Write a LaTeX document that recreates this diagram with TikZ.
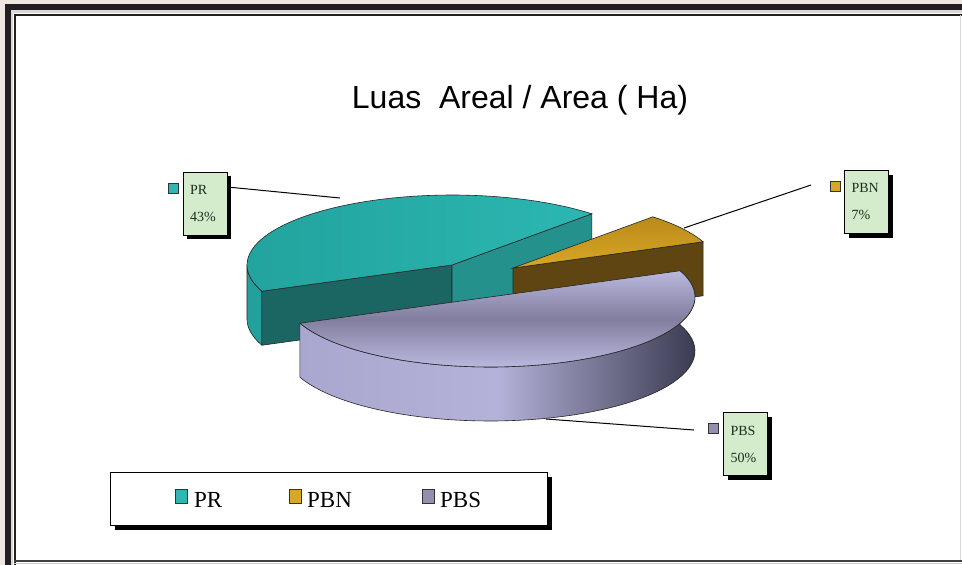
\documentclass[tikz,border=0pt]{standalone}
\usepackage{fontspec}
\setmainfont{Liberation Serif}
\newfontfamily\titlefont{Liberation Sans}
\usetikzlibrary{shadows}
\definecolor{bgpink}{HTML}{EFE6E2}
\definecolor{framedark}{HTML}{231F20}
\definecolor{tealtop}{HTML}{2CB7B2}
\definecolor{tealtopdark}{HTML}{22A39E}
\definecolor{tealfront}{HTML}{1B6663}
\definecolor{tealright}{HTML}{24918C}
\definecolor{tealside}{HTML}{22A09B}
\definecolor{goldtop}{HTML}{D9A726}
\definecolor{goldtopdark}{HTML}{B98A1A}
\definecolor{goldfront}{HTML}{5E4511}
\definecolor{lavtop}{HTML}{BAB8DE}
\definecolor{lavmid}{HTML}{817E9E}
\definecolor{lavside}{HTML}{A9A7CF}
\definecolor{lavsidelight}{HTML}{B4B2D8}
\definecolor{lavsidedark}{HTML}{3B3B52}
\definecolor{calloutfill}{HTML}{D4ECCB}
\definecolor{callouttext}{HTML}{1E2E1E}
\tikzset{
  edge/.style={draw=black!85, line width=0.6pt},
  callout/.style={draw=black, line width=0.8pt, fill=calloutfill, minimum width=44pt, minimum height=63pt,
    inner sep=0pt, text width=30pt, align=left, text=callouttext,
    font=\fontsize{14}{27}\selectfont,
    drop shadow={shadow xshift=4pt, shadow yshift=-4pt, fill=black, opacity=1}},
  keysq/.style={draw=black!80, line width=0.8pt, minimum width=10pt, minimum height=10pt, inner sep=0pt},
  legsq/.style={draw=black!80, line width=0.8pt, minimum width=12pt, minimum height=14pt, inner sep=0pt},
  legtext/.style={font=\fontsize{23}{26}\selectfont, anchor=base west, inner sep=0pt},
  leader/.style={draw=black, line width=1pt},
}
\begin{document}
\begin{tikzpicture}[x=1pt,y=-1pt]
\useasboundingbox (0,0) rectangle (962,565);
% frame
\fill[white] (0,0) rectangle (962,565);
\fill[bgpink] (0,0) rectangle (962,4);
\fill[bgpink] (0,0) rectangle (5,565);
\fill[framedark] (5,4) rectangle (962,10);
\fill[framedark] (5,4) rectangle (11,565);
\fill[black!15] (11,10) rectangle (962,12.5);
\fill[black!15] (11,10) rectangle (13,565);
\draw[framedark, line width=1.6pt] (14.8,565) -- (14.8,14.8) -- (962,14.8);
\draw[black!75, line width=1.4pt] (14,560.8) -- (962,560.8);
\draw[black!20, line width=1pt] (14,563.5) -- (962,563.5);
\draw[black!15, line width=1.2pt] (960.8,15) -- (960.8,560);

% title
\node[font=\titlefont\fontsize{32}{38}\selectfont, anchor=base, inner sep=0pt] (title) at (520,108) {Luas\ \ Areal / Area ( Ha)};

% ---- PR slice (center 452,265), angles 47..202
\fill[tealside] plot[domain=180:202, samples=12, variable=\t] ({452+205*cos(\t)},{265-70*sin(\t)})
   -- plot[domain=202:180, samples=12, variable=\t] ({452+205*cos(\t)},{319-70*sin(\t)}) -- cycle;
\draw[edge] plot[domain=180:202, samples=12, variable=\t] ({452+205*cos(\t)},{265-70*sin(\t)})
   -- plot[domain=202:180, samples=12, variable=\t] ({452+205*cos(\t)},{319-70*sin(\t)}) -- cycle;
\filldraw[edge, fill=tealfront] (452,265) -- ({452+205*cos(202)},{265-70*sin(202)}) -- ({452+205*cos(202)},{319-70*sin(202)}) -- (452,319) -- cycle;
\filldraw[edge, fill=tealright] (452,265) -- ({452+205*cos(47)},{265-70*sin(47)}) -- ({452+205*cos(47)},{319-70*sin(47)}) -- (452,319) -- cycle;
\shadedraw[edge, left color=tealtopdark, right color=tealtop] (452,265) -- plot[domain=47:202, samples=50, variable=\t] ({452+205*cos(\t)},{265-70*sin(\t)}) -- cycle;

% ---- PBN slice (center 513,268), angles 22..47
\filldraw[edge, fill=goldfront] (513,268) -- ({513+205*cos(22)},{268-70*sin(22)}) -- ({513+205*cos(22)},{322-70*sin(22)}) -- (513,322) -- cycle;
\shadedraw[edge, top color=goldtopdark, bottom color=goldtop] (513,268) -- plot[domain=22:47, samples=12, variable=\t] ({513+205*cos(\t)},{268-70*sin(\t)}) -- cycle;

% ---- PBS slice (center 490,297), angles 202..382
\shadedraw[edge, left color=lavside, right color=lavsidedark, middle color=lavsidelight]
   plot[domain=202:382, samples=60, variable=\t] ({490+205*cos(\t)},{297-70*sin(\t)})
   -- plot[domain=382:202, samples=60, variable=\t] ({490+205*cos(\t)},{351-70*sin(\t)}) -- cycle;
\shadedraw[edge, top color=lavtop, bottom color=lavtop, middle color=lavmid]
   plot[domain=202:382, samples=60, variable=\t] ({490+205*cos(\t)},{297-70*sin(\t)}) -- cycle;

% anchor points on slices
\coordinate (prpt) at (340,198);
\coordinate (pbnpt) at (684,228);
\coordinate (pbspt) at (546,419);
\coordinate (pbnend) at (811,185);
\coordinate (pbsend) at (694,430);

% callouts
\node[callout] (prbox) at (205,203.5) {PR\\43\%};
\node[keysq, fill=tealtop] (prsq) at (173.5,188) {};
\draw[leader] (prbox.east |- 0,187) -- (prpt);

\node[callout] (pbnbox) at (866.5,202) {PBN\\7\%};
\node[keysq, fill=goldtop] (pbnsq) at (835,186) {};
\draw[leader] (pbnpt) -- (pbnend);

\node[callout] (pbsbox) at (745.5,444) {PBS\\50\%};
\node[keysq, fill=lavmid!70!lavtop] (pbssq) at (713.5,428.5) {};
\draw[leader] (pbspt) -- (pbsend);

% legend
\node[draw=black, line width=0.9pt, fill=white, minimum width=437pt, minimum height=53pt, inner sep=0pt,
      drop shadow={shadow xshift=5pt, shadow yshift=-5pt, fill=black, opacity=1}] (legend) at (328.5,498.5) {};
\node[legsq, fill=tealtop] (lgprsq) at (181.5,496) {};
\node[legtext] (lgpr) at (194,507) {PR};
\node[legsq, fill=goldtop] (lgpbnsq) at (295.5,496) {};
\node[legtext] (lgpbn) at (307,507) {PBN};
\node[legsq, fill=lavmid!70!lavtop] (lgpbssq) at (428.5,496) {};
\node[legtext] (lgpbs) at (440,507) {PBS};
\end{tikzpicture}
\end{document}
